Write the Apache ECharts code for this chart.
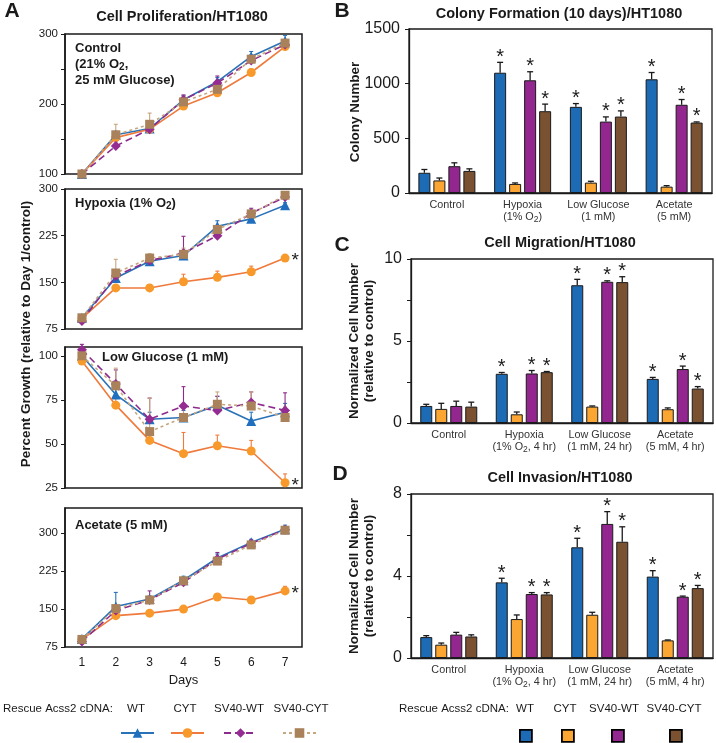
<!DOCTYPE html>
<html><head><meta charset="utf-8">
<script src="https://cdn.jsdelivr.net/npm/echarts@6/dist/echarts.min.js"></script>
<style>html,body{margin:0;padding:0;background:#fff}#c{width:716px;height:743px}</style>
</head><body><div id="c"></div>
<script>
const FONT = "'Liberation Sans', Arial, Helvetica, sans-serif";
const INK = '#1a1a1a';

// ---------- Panel A : Cell proliferation ----------
const days = ['1','2','3','4','5','6','7'];
const treatments = ['WT','CYT','SV40-WT','SV40-CYT'];

const ctrlWT      = [100,156,165,206,232,268,290];
const ctrlCYT     = [100,152,164,197,216,245,282];
const ctrlSV40WT  = [100,140,164,206,230,262,285];
const ctrlSV40CYT = [100,156,171,203,221,264,287];
const ctrlWTErr      = [0,5,4,6,6,7,8];
const ctrlCYTErr     = [0,5,4,5,5,5,4];
const ctrlSV40WTErr  = [0,6,4,7,10,8,5];
const ctrlSV40CYTErr = [0,15,16,8,8,6,5];

const hypWT      = [93,157,184,193,240,252,274];
const hypCYT     = [92,141,141,151,158,167,189];
const hypSV40WT  = [88,160,185,197,225,261,287];
const hypSV40CYT = [93,165,189,195,235,260,290];
const hypWTErr      = [4,5,4,5,9,5,4];
const hypCYTErr     = [3,4,5,12,10,9,4];
const hypSV40WTErr  = [4,6,5,27,6,8,5];
const hypSV40CYTErr = [4,22,7,10,5,6,5];

const lgWT      = [100,78,64,65,72,63,68];
const lgCYT     = [97,72,52,44.5,49,46,28];
const lgSV40WT  = [103.5,84,64,71.5,69,73.5,69];
const lgSV40CYT = [100,83,57,65,72.5,71.5,65];
const lgWTErr      = [2,4,4,4,5,5,5];
const lgCYTErr     = [2,4,3,12,6,6,5];
const lgSV40WTErr  = [3,8,12,11,8,6,10];
const lgSV40CYTErr = [3,10,19,8,7,8,6];

const acWT      = [91,155,170,207,251,282,308];
const acCYT     = [90,137,142,150,174,168,186];
const acSV40WT  = [86,147,168,203,249,280,307];
const acSV40CYT = [90,151,168,206,245,277,306];
const acWTErr      = [4,28,6,8,8,6,8];
const acCYTErr     = [3,4,4,4,4,4,9];
const acSV40WTErr  = [4,6,18,9,13,6,6];
const acSV40CYTErr = [4,5,5,6,6,5,5];

const ctrlTicks = [100,150,200,250,300];
const ctrlTickLabels = [100,200,300];
const hypTicks = [75,150,225,300];
const lgTicks = [25,50,75,100];
const acTicks = [75,150,225,300];
const cytDay7Significant = [false,true,true,true];

// ---------- Panels B-D : bar charts ----------
const conditions = ['Control','Hypoxia','Low Glucose','Acetate'];
const colonyNotes = ['', '(1% O{s|2})', '(1 mM)', '(5 mM)'];
const assayNotes  = ['', '(1% O{s|2}, 4 hr)', '(1 mM, 24 hr)', '(5 mM, 4 hr)'];

const colonyWT      = [185,1100,788,1040];
const colonyCYT     = [115,83,95,58];
const colonySV40WT  = [245,1031,653,807];
const colonySV40CYT = [202,748,699,644];
const colonyWTErr      = [30,95,30,62];
const colonyCYTErr     = [22,9,12,9];
const colonySV40WTErr  = [31,78,43,48];
const colonySV40CYTErr = [19,65,52,6];

const migWT      = [1.04,3.0,8.4,2.69];
const migCYT     = [0.86,0.53,1.0,0.84];
const migSV40WT  = [1.04,3.02,8.61,3.29];
const migSV40CYT = [1.0,3.1,8.59,2.1];
const migWTErr      = [0.1,0.08,0.36,0.09];
const migCYTErr     = [0.34,0.14,0.04,0.08];
const migSV40WTErr  = [0.29,0.18,0.06,0.18];
const migSV40CYTErr = [0.27,0.04,0.33,0.12];

const invWT      = [1.02,3.69,5.4,3.97];
const invCYT     = [0.65,1.9,2.11,0.86];
const invSV40WT  = [1.14,3.12,6.54,2.99];
const invSV40CYT = [1.05,3.1,5.67,3.41];
const invWTErr      = [0.07,0.2,0.44,0.29];
const invCYTErr     = [0.08,0.2,0.12,0.02];
const invSV40WTErr  = [0.11,0.07,0.6,0.03];
const invSV40CYTErr = [0.08,0.09,0.73,0.13];

// significance flags per treatment (per condition)
const sigWT = [0,1,1,1], sigCYT = [0,0,0,0], sigSV40WT = [0,1,1,1], sigSV40CYT = [0,1,1,1];

const colonyTicks = [0,500,1000,1500];
const migTicks = [0,2.5,5,7.5,10];
const migTickLabels = [0,5,10];
const invTicks = [0,2,4,6,8];
const invTickLabels = [0,4,8];

// ---------- styling ----------
const lineColors   = ['#2a72b8','#ef7a3c','#8d2b8c','#c6a67e'];
const markerColors = ['#1f6fbe','#f79a2b','#952c91','#a9825c'];
const barColors    = ['#1d6ab5','#fba632','#93278f','#7b5231'];
const symbols = ['triangle','circle','diamond','rect'];
const symbolSizes = [10,9,10,9];
const dashes = ['solid','solid',[7,4],[3,3]];

const linePanels = [
  {vals:[ctrlWT,ctrlCYT,ctrlSV40WT,ctrlSV40CYT], errs:[ctrlWTErr,ctrlCYTErr,ctrlSV40WTErr,ctrlSV40CYTErr], min:100, max:300, ticks:ctrlTicks, labels:ctrlTickLabels,
   grid:{left:65, top:34, width:237, height:140}},
  {vals:[hypWT,hypCYT,hypSV40WT,hypSV40CYT], errs:[hypWTErr,hypCYTErr,hypSV40WTErr,hypSV40CYTErr], min:75, max:300, ticks:hypTicks, labels:hypTicks,
   grid:{left:65, top:189, width:237, height:140}},
  {vals:[lgWT,lgCYT,lgSV40WT,lgSV40CYT], errs:[lgWTErr,lgCYTErr,lgSV40WTErr,lgSV40CYTErr], min:25, max:105, ticks:lgTicks, labels:lgTicks,
   grid:{left:65, top:347, width:237, height:141}},
  {vals:[acWT,acCYT,acSV40WT,acSV40CYT], errs:[acWTErr,acCYTErr,acSV40WTErr,acSV40CYTErr], min:75, max:350, ticks:acTicks, labels:acTicks,
   grid:{left:65, top:508, width:237, height:139}},
];

const barPanels = [
  {vals:[colonyWT,colonyCYT,colonySV40WT,colonySV40CYT], errs:[colonyWTErr,colonyCYTErr,colonySV40WTErr,colonySV40CYTErr],
   min:0, max:1500, ticks:colonyTicks, labels:colonyTicks, notes:colonyNotes, grid:{left:409, top:29, width:303, height:164}},
  {vals:[migWT,migCYT,migSV40WT,migSV40CYT], errs:[migWTErr,migCYTErr,migSV40WTErr,migSV40CYTErr],
   min:0, max:10, ticks:migTicks, labels:migTickLabels, notes:assayNotes, grid:{left:411, top:259, width:302, height:164}},
  {vals:[invWT,invCYT,invSV40WT,invSV40CYT], errs:[invWTErr,invCYTErr,invSV40WTErr,invSV40CYTErr],
   min:0, max:8, ticks:invTicks, labels:invTickLabels, notes:assayNotes, grid:{left:411, top:494, width:302, height:164}},
];
const sigs = [sigWT, sigCYT, sigSV40WT, sigSV40CYT];

const grids = [], xAxes = [], yAxes = [], series = [];

function lineErr(color) {
  return function (params, api) {
    const i = api.value(0), v = api.value(1), e = api.value(2);
    if (!e) return;
    const a = api.coord([i, v]), b = api.coord([i, v + e]);
    return {type:'group', children:[
      {type:'line', shape:{x1:a[0], y1:a[1], x2:b[0], y2:b[1]}, style:{stroke:color, lineWidth:1.1}},
      {type:'line', shape:{x1:b[0]-2, y1:b[1], x2:b[0]+2, y2:b[1]}, style:{stroke:color, lineWidth:1.1}}
    ]};
  };
}

linePanels.forEach((p, pi) => {
  grids.push(Object.assign({show:true, borderColor:INK, borderWidth:1.5, backgroundColor:'transparent'}, p.grid));
  const last = pi === linePanels.length - 1;
  xAxes.push({type:'category', gridIndex:pi, data:days, boundaryGap:true,
    axisLine:{show:false}, axisTick:{show:false},
    axisLabel:{show:last, fontSize:12, color:INK, fontFamily:FONT, margin:10},
    name: last ? 'Days' : '', nameLocation:'middle', nameGap:27,
    nameTextStyle:{fontSize:13, color:INK, fontFamily:FONT}});
  yAxes.push({type:'value', gridIndex:pi, min:p.min, max:p.max, splitLine:{show:false},
    axisLine:{show:true, lineStyle:{color:INK, width:1.5}},
    axisTick:{show:true, length:4, customValues:p.ticks, lineStyle:{color:INK, width:1}},
    axisLabel:{customValues:p.labels, fontSize:11.5, color:INK, fontFamily:FONT, margin:7, formatter:v => String(v)}});
  treatments.forEach((t, k) => {
    const data = p.vals[k].map((v, i) => {
      if (k === 1 && cytDay7Significant[pi] && i === days.length - 1) {
        return {value:v, label:{show:true, formatter:'*', position:'right', distance:2, offset:[0,3],
          fontSize:19, color:INK, fontFamily:FONT}};
      }
      return v;
    });
    series.push({type:'line', name:t, xAxisIndex:pi, yAxisIndex:pi, data, clip:false,
      symbol:symbols[k], symbolSize:symbolSizes[k],
      lineStyle:{color:lineColors[k], width:1.6, type:dashes[k]},
      itemStyle:{color:markerColors[k]}, z:3 + k});
    series.push({type:'custom', name:t, xAxisIndex:pi, yAxisIndex:pi, clip:false, silent:true, z:2,
      data:p.vals[k].map((v, i) => [i, v, p.errs[k][i]]), encode:{x:0, y:1},
      renderItem:lineErr(lineColors[k])});
  });
});

function barErr(k) {
  const off = -22.5 + 15 * k;
  return function (params, api) {
    const i = api.value(0), v = api.value(1), e = api.value(2), s = api.value(3);
    const a = api.coord([i, v]), b = api.coord([i, v + e]);
    const x = a[0] + off;
    const children = [
      {type:'line', shape:{x1:x, y1:a[1], x2:x, y2:b[1]}, style:{stroke:INK, lineWidth:1.3}},
      {type:'line', shape:{x1:x-3, y1:b[1], x2:x+3, y2:b[1]}, style:{stroke:INK, lineWidth:1.3}}
    ];
    if (s) children.push({type:'text', style:{text:'*', x:x, y:b[1]-5, align:'center', verticalAlign:'middle',
      fontSize:20, fontFamily:FONT, fill:INK}});
    return {type:'group', children};
  };
}

barPanels.forEach((p, bi) => {
  const gi = linePanels.length + bi;
  grids.push(Object.assign({show:true, borderColor:INK, borderWidth:1.3, backgroundColor:'transparent'}, p.grid));
  xAxes.push({type:'category', gridIndex:gi, data:conditions,
    axisLine:{show:true, lineStyle:{color:INK, width:1.3}}, axisTick:{show:false},
    axisLabel:{interval:0, fontSize:10.8, lineHeight:12, color:'#333', fontFamily:FONT, margin:6,
      formatter:(val, idx) => p.notes[idx] ? val + '\n' + p.notes[idx] : val,
      rich:{s:{fontSize:8.5, lineHeight:9, color:'#333', fontFamily:FONT, padding:[5,0,0,0]}}}});
  yAxes.push({type:'value', gridIndex:gi, min:p.min, max:p.max, splitLine:{show:false},
    axisLine:{show:true, lineStyle:{color:INK, width:1.3}},
    axisTick:{show:true, length:4, customValues:p.ticks, lineStyle:{color:INK}},
    axisLabel:{customValues:p.labels, fontSize:16, color:INK, fontFamily:FONT, margin:9, formatter:v => String(v)}});
  treatments.forEach((t, k) => {
    series.push({type:'bar', name:t + ' bars', xAxisIndex:gi, yAxisIndex:gi, data:p.vals[k],
      barWidth:12, barGap:'25%', itemStyle:{color:barColors[k], borderColor:INK, borderWidth:1}, z:2});
    series.push({type:'custom', name:t + ' bars', xAxisIndex:gi, yAxisIndex:gi, clip:false, silent:true, z:3,
      data:p.vals[k].map((v, i) => [i, v, p.errs[k][i], sigs[k][i]]), encode:{x:0, y:1},
      renderItem:barErr(k)});
  });
});

// ---------- legends ----------
const lineLegendLeft = [120,170,223,282];
const barLegendLeft  = [519,561,611,669];
const legends = [];
treatments.forEach((t, k) => {
  legends.push({data:[t], left:lineLegendLeft[k], top:727, padding:0, itemWidth:33, itemHeight:12,
    formatter:() => '', selectedMode:false});
  legends.push({data:[t + ' bars'], left:barLegendLeft[k], top:729, padding:0, itemWidth:12, itemHeight:12, icon:'rect',
    itemStyle:{borderColor:'#000', borderWidth:1.8}, formatter:() => '', selectedMode:false});
});

// ---------- texts ----------
function txt(x, y, text, o) {
  o = o || {};
  return {type:'text', x, y, rotation:o.rot || 0, silent:true,
    style:{text, fontSize:o.size || 12, fontWeight:o.weight || 'normal', fontFamily:FONT, fill:o.color || INK,
      align:o.align || 'left', verticalAlign:o.va || 'middle', rich:o.rich}};
}
const boldRich = {
  b:{fontSize:13, fontWeight:'bold', fontFamily:FONT, fill:INK, lineHeight:16},
  bs:{fontSize:10, fontWeight:'bold', fontFamily:FONT, fill:INK, lineHeight:10, padding:[6,0,0,0]}
};
const legendLabelX = {line:[136,185,239,301], bar:[525,565,614,674]};
const graphics = [
  txt(12, 11, 'A', {size:21, weight:'bold', align:'center'}),
  txt(342, 11, 'B', {size:21, weight:'bold', align:'center'}),
  txt(342, 245, 'C', {size:21, weight:'bold', align:'center'}),
  txt(340, 474, 'D', {size:21, weight:'bold', align:'center'}),
  txt(182, 17, 'Cell Proliferation/HT1080', {size:14.5, weight:'bold', align:'center'}),
  txt(559, 14, 'Colony Formation (10 days)/HT1080', {size:14.5, weight:'bold', align:'center'}),
  txt(560, 243, 'Cell Migration/HT1080', {size:14.5, weight:'bold', align:'center'}),
  txt(560, 478, 'Cell Invasion/HT1080', {size:14.5, weight:'bold', align:'center'}),
  txt(26, 334, 'Percent Growth (relative to Day 1/control)', {size:13.5, weight:'bold', align:'center', rot:Math.PI/2}),
  txt(355, 112, 'Colony Number', {size:13.5, weight:'bold', align:'center', rot:Math.PI/2}),
  txt(354, 341, 'Normalized Cell Number', {size:13.5, weight:'bold', align:'center', rot:Math.PI/2}),
  txt(369, 341, '(relative to control)', {size:13.5, weight:'bold', align:'center', rot:Math.PI/2}),
  txt(354, 576, 'Normalized Cell Number', {size:13.5, weight:'bold', align:'center', rot:Math.PI/2}),
  txt(369, 576, '(relative to control)', {size:13.5, weight:'bold', align:'center', rot:Math.PI/2}),
  txt(75, 40, '{b|Control}\n{b|(21% O}{bs|2}{b|,}\n{b|25 mM Glucose)}', {va:'top', rich:boldRich}),
  txt(75, 195, '{b|Hypoxia (1% O}{bs|2}{b|)}', {va:'top', rich:boldRich}),
  txt(102, 349, '{b|Low Glucose (1 mM)}', {va:'top', rich:boldRich}),
  txt(75, 517, '{b|Acetate (5 mM)}', {va:'top', rich:boldRich}),
  txt(3, 709, 'Rescue Acss2 cDNA:', {size:11.5}),
  txt(399, 709, 'Rescue Acss2 cDNA:', {size:11.5}),
];
treatments.forEach((t, k) => {
  graphics.push(txt(legendLabelX.line[k], 709, t, {size:11.5, align:'center'}));
  graphics.push(txt(legendLabelX.bar[k], 709, t, {size:11.5, align:'center'}));
});

const chart = echarts.init(document.getElementById('c'), null, {renderer:'canvas'});
chart.setOption({
  animation:false,
  backgroundColor:'#fff',
  textStyle:{fontFamily:FONT},
  grid:grids, xAxis:xAxes, yAxis:yAxes, series, legend:legends, graphic:graphics
});
</script></body></html>
